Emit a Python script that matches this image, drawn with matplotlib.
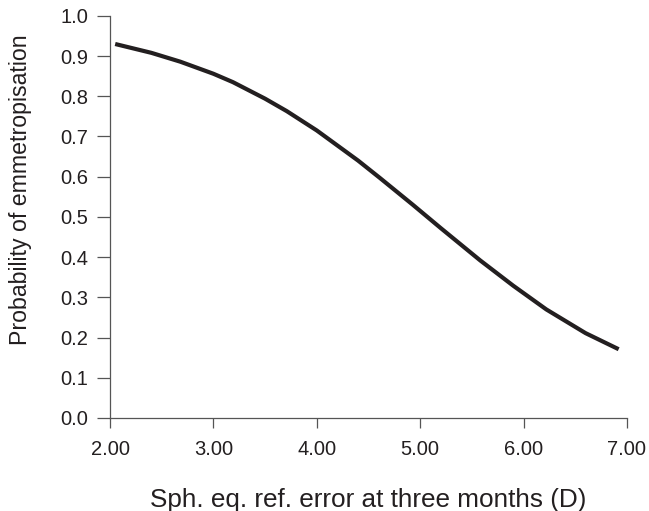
import matplotlib
matplotlib.use("Agg")
import matplotlib.pyplot as plt

# values
sph_err = [2.05, 2.40, 2.68, 3.00, 3.19, 3.50, 3.71, 4.00, 4.16, 4.40,
           4.61, 4.93, 5.20, 5.58, 5.90, 6.22, 6.60, 6.92]
prob = [0.930, 0.908, 0.886, 0.856, 0.835, 0.794, 0.763, 0.715, 0.685, 0.640,
        0.597, 0.530, 0.472, 0.392, 0.329, 0.270, 0.211, 0.171]

x_ticks = [2, 3, 4, 5, 6, 7]
y_ticks = [0.0, 0.1, 0.2, 0.3, 0.4, 0.5, 0.6, 0.7, 0.8, 0.9, 1.0]

plt.rcParams['font.family'] = ['Liberation Sans', 'DejaVu Sans']
ink = '#231f20'

fig = plt.figure(figsize=(6.49, 5.11), dpi=100)
ax = fig.add_axes([0.1695, 0.182, 0.7965, 0.787])

ax.plot(sph_err, prob, color=ink, linewidth=3.0, solid_capstyle='butt')

ax.set_xlim(2, 7)
ax.set_ylim(0, 1.0)
ax.set_xticks(x_ticks)
ax.set_xticklabels([f'{v:.2f}' for v in x_ticks])
ax.set_yticks(y_ticks)
ax.set_yticklabels([f'{v:.1f}' for v in y_ticks])

for side in ['top', 'right']:
    ax.spines[side].set_visible(False)
for side in ['left', 'bottom']:
    ax.spines[side].set_color('#555555')
    ax.spines[side].set_linewidth(0.9)

ax.tick_params(axis='y', length=9.5, width=0.9, color='#555555',
               labelsize=14.5, labelcolor=ink, pad=6)
ax.tick_params(axis='x', length=7.5, width=0.9, color='#555555',
               labelsize=14.5, labelcolor=ink, pad=8)

ax.set_xlabel('Sph. eq. ref. error at three months (D)', fontsize=18.8,
              color=ink, labelpad=21)
ax.set_ylabel('Probability of emmetropisation', fontsize=16.7, color=ink)
# label sits a bit above the middle of the axis in the original
ax.yaxis.set_label_coords(-0.15, 0.567)

fig.savefig('out.png', dpi=100)
